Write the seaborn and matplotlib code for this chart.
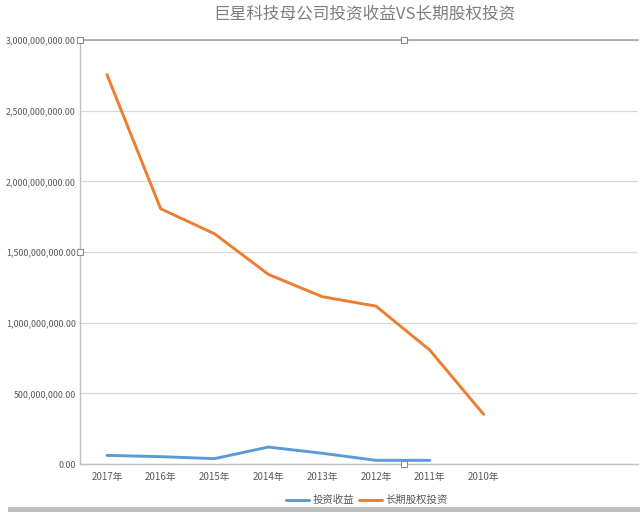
import pandas as pd
import numpy as np
import matplotlib
matplotlib.use('Agg')
import matplotlib.pyplot as plt
import seaborn as sns
from matplotlib.ticker import FuncFormatter

###############################################################################
# Data
###############################################################################
years = ['2017年', '2016年', '2015年', '2014年', '2013年', '2012年', '2011年', '2010年']
invest_income = [61e6, 52e6, 38e6, 120e6, 76e6, 26e6, 26e6, np.nan]
lt_equity = [2756e6, 1806e6, 1629e6, 1342e6, 1184e6, 1117e6, 806e6, 351e6]
series_names = ['投资收益', '长期股权投资']
yticks = [0, 500e6, 1000e6, 1500e6, 2000e6, 2500e6, 3000e6]

df = pd.DataFrame({
    'year': years * 2,
    'value': invest_income + lt_equity,
    'series': [series_names[0]] * len(years) + [series_names[1]] * len(years),
})

###############################################################################
# Plot
###############################################################################
sns.set_theme(style='white')
plt.rcParams['font.family'] = ['Noto Sans CJK SC', 'DejaVu Sans']

fig = plt.figure(figsize=(6.4, 5.12), dpi=100)
ax = fig.add_axes([0.125, 0.09375, 0.872, 0.828])

palette = {series_names[0]: '#5B9BD5', series_names[1]: '#ED7D31'}
sns.lineplot(data=df, x='year', y='value', hue='series', palette=palette,
             linewidth=2.1, ax=ax, legend=False, sort=False)

ax.set_xlim(-0.5, 9.87)
ax.set_ylim(0, 3000e6)
ax.set_yticks(yticks)
ax.yaxis.set_major_formatter(FuncFormatter(lambda v, p: f'{v:,.2f}'))
ax.grid(axis='y', color='#D9D9D9', linewidth=0.9)
ax.set_xlabel('')
ax.set_ylabel('')
ax.tick_params(axis='both', length=0, colors='#595959')
ax.tick_params(axis='y', labelsize=6.4, pad=3)
ax.tick_params(axis='x', labelsize=7, pad=6)

for s in ['left', 'bottom']:
    ax.spines[s].set_color('#BFBFBF')
    ax.spines[s].set_linewidth(1.0)
ax.spines['top'].set_color('#A6A6A6')
ax.spines['top'].set_linewidth(1.2)
ax.spines['right'].set_visible(False)

# selection handles of the plot area
for hx, hy in [(0, 1), (0.58, 1), (0, 0.5), (0.58, 0)]:
    ax.plot(hx, hy, marker='s', markersize=4, markerfacecolor='white',
            markeredgecolor='#8C8C8C', markeredgewidth=0.8,
            transform=ax.transAxes, clip_on=False, zorder=5)

fig.text(0.57, 0.972, '巨星科技母公司投资收益VS长期股权投资', ha='center', va='center',
         fontsize=12, color='#7F7F7F')

handles = [plt.Line2D([], [], color=palette[n], linewidth=2.1) for n in series_names]
fig.legend(handles, series_names, loc='center', bbox_to_anchor=(0.573, 0.023),
           ncol=2, frameon=False, fontsize=7.5, handlelength=2.2,
           handletextpad=0.3, columnspacing=0.5, labelcolor='#595959')

# grey bar along the bottom edge
fig.add_artist(plt.Rectangle((0.013, 0.0), 0.987, 0.01, transform=fig.transFigure,
                             color='#BFBFBF', linewidth=0))

fig.savefig('out.png', dpi=100)
